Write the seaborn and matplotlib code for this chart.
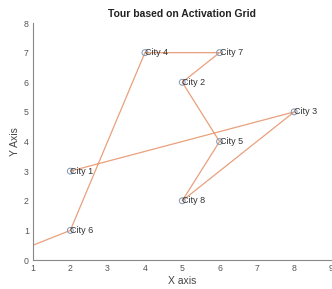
import matplotlib
matplotlib.use("Agg")
import matplotlib.pyplot as plt
import seaborn as sns
import pandas as pd

# City coordinates
city_names = ["City 1", "City 2", "City 3", "City 4", "City 5", "City 6", "City 7", "City 8"]
city_x = [2, 5, 8, 4, 6, 2, 6, 5]
city_y = [3, 6, 5, 7, 4, 1, 7, 2]

# Tour order (start point outside the visible area, then city indices 1-based)
start_x = [0]
start_y = [0]
tour_order = [6, 4, 7, 2, 5, 8, 3, 1]

x_ticks = [1, 2, 3, 4, 5, 6, 7, 8, 9]
y_ticks = [0, 1, 2, 3, 4, 5, 6, 7, 8]

sns.set_style("white")
plt.rcParams["font.family"] = ["Liberation Sans", "DejaVu Sans"]

fig = plt.figure(figsize=(3.32, 2.89), dpi=100)
ax = fig.add_axes([0.0994, 0.1003, 0.899, 0.820])

tour_x = start_x + [city_x[i - 1] for i in tour_order]
tour_y = start_y + [city_y[i - 1] for i in tour_order]
tour_df = pd.DataFrame({"x": tour_x, "y": tour_y, "step": range(len(tour_x))})
sns.lineplot(data=tour_df, x="x", y="y", sort=False, estimator=None, ax=ax,
             color="#e9a07c", linewidth=0.9)

cities_df = pd.DataFrame({"x": city_x, "y": city_y, "name": city_names})
sns.scatterplot(data=cities_df, x="x", y="y", ax=ax, marker="o", s=18,
                facecolor="none", edgecolor="#7f95b3", linewidth=0.7, zorder=3)

for name, xx, yy in zip(city_names, city_x, city_y):
    ax.text(xx, yy, name, ha="left", va="center", fontsize=6.5, color="#333333",
            zorder=4)

ax.set_xlim(1, 9)
ax.set_ylim(0, 8)
ax.set_xticks(x_ticks)
ax.set_yticks(y_ticks)
ax.tick_params(direction="in", length=2.5, width=0.6, colors="#888888",
               labelsize=6.3, labelcolor="#555555", pad=3)
for side in ["top", "right"]:
    ax.spines[side].set_visible(False)
for side in ["left", "bottom"]:
    ax.spines[side].set_color("#888888")
    ax.spines[side].set_linewidth(0.8)

ax.set_xlabel("X axis", fontsize=7.5, color="#444444", labelpad=2)
ax.set_ylabel("Y Axis", fontsize=7.5, color="#444444", labelpad=3)
ax.set_title("Tour based on Activation Grid", fontsize=7.5, fontweight="bold",
             color="#222222", pad=4)

fig.savefig("out.png", dpi=100)
